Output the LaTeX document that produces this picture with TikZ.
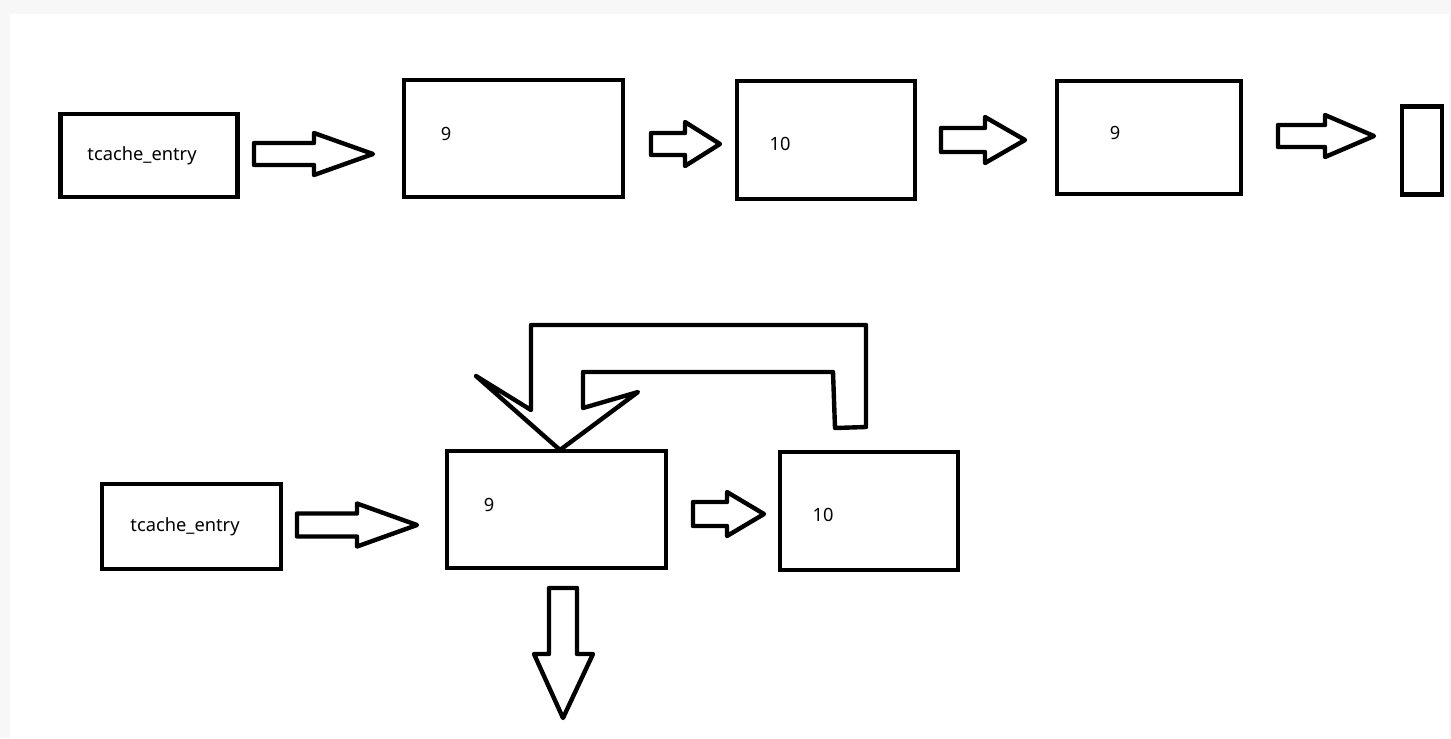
\documentclass[tikz,border=0pt]{standalone}
\usepackage{fontspec}
\setmainfont{Noto Sans}
\usepackage{xcolor}
\definecolor{pagebg}{HTML}{F7F7F7}
\usetikzlibrary{positioning}

% fat outlined arrow: start x, head x, tip x, mid y, shaft half, head half
\newcommand{\fatarrow}[6]{%
  \draw[blockarrow] (#1,#4-#5) -- (#2,#4-#5) -- (#2,#4-#6) -- (#3,#4)
    -- (#2,#4+#6) -- (#2,#4+#5) -- (#1,#4+#5) -- cycle;}

\begin{document}
\begin{tikzpicture}[
  x=0.02cm, y=-0.02cm,
  box/.style={draw, line width=2.6pt, inner sep=0pt},
  blockarrow/.style={line width=2.5pt, line join=round},
  txt/.style={font=\fontsize{10.4}{12}\selectfont, inner sep=0pt},
]
\useasboundingbox (0,0) rectangle (1451,738);
\fill[pagebg] (0,0) rectangle (1451,738);
\fill[white] (10,14) rectangle (1449,738);

% top row
\node[box, minimum width=3.54cm, minimum height=1.66cm] (entry1) at (149,155.5) {};
\node[txt] (entry1txt) at (142,156) {tcache\_entry};
\node[box, minimum width=4.38cm, minimum height=2.34cm] (nine1) at (513.5,138.5) {};
\node[txt] (nine1txt) at (446,134) {9};
\node[box, minimum width=3.56cm, minimum height=2.36cm] (ten1) at (826,140) {};
\node[txt] (ten1txt) at (780,144) {10};
\node[box, minimum width=3.68cm, minimum height=2.26cm] (nine2) at (1149,137.5) {};
\node[txt] (nine2txt) at (1115,133) {9};
\node[box, minimum width=0.80cm, minimum height=1.76cm] (tail) at (1422,150.5) {};

\fatarrow{254}{314}{373}{154}{11}{21}
\fatarrow{651}{685}{720}{144}{11}{22}
\fatarrow{941}{985}{1025}{140}{12}{23}
\fatarrow{1278}{1325}{1374}{136}{11}{21}

% bottom row
\node[box, minimum width=3.58cm, minimum height=1.70cm] (entry2) at (191.5,526.5) {};
\node[txt] (entry2txt) at (185,527) {tcache\_entry};
\node[box, minimum width=4.38cm, minimum height=2.34cm] (nine3) at (556.5,509.5) {};
\node[txt] (nine3txt) at (489,505) {9};
\node[box, minimum width=3.56cm, minimum height=2.36cm] (ten2) at (869,511) {};
\node[txt] (ten2txt) at (823,515) {10};

\fatarrow{297}{357}{417}{525}{11.5}{21.5}
\fatarrow{693}{727}{764}{514}{12}{22}

% arrow down out of the 9
\draw[blockarrow] (549,588) -- (577,588) -- (577,654) -- (593,654) -- (563,718)
  -- (534,654) -- (549,654) -- cycle;

% loop back from 10 to 9
\draw[blockarrow] (531,410) -- (531,325) -- (866,325) -- (866,427) -- (835,428)
  -- (833,372) -- (583,372) -- (583,408) -- (638,392) -- (560,450)
  -- (476,376) -- cycle;
\end{tikzpicture}
\end{document}
